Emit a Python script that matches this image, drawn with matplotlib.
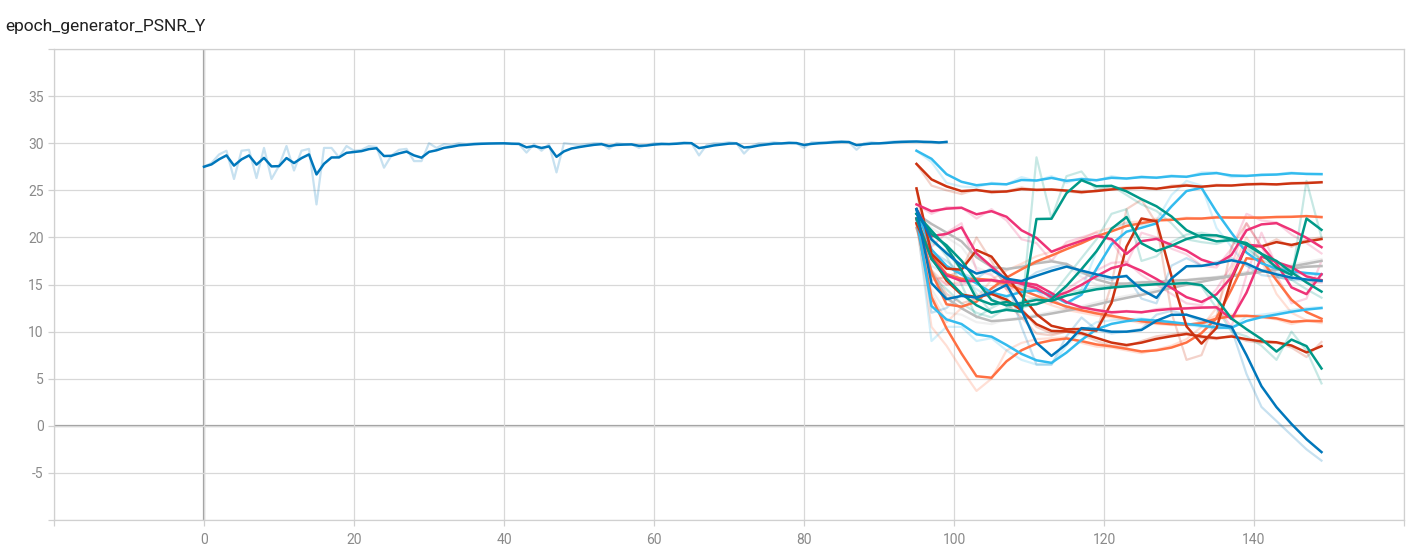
import numpy as np
import matplotlib
matplotlib.use("Agg")
import matplotlib.pyplot as plt

# -----------------------
# Data (raw scalar values)
# -----------------------
TITLE = "epoch_generator_PSNR_Y"
SMOOTHING = 0.6

main_epochs = np.arange(0, 100)
main_raw = [
    27.5, 27.9, 28.8, 29.2, 26.2, 29.2, 29.3, 26.3, 29.5, 26.2,
    27.6, 29.7, 27.1, 29.2, 29.4, 23.5, 29.5, 29.5, 28.5, 29.7,
    29.2, 29.3, 29.7, 29.6, 27.4, 28.7, 29.3, 29.4, 28.1, 28.1,
    30.0, 29.5, 29.9, 29.8, 30.0, 29.9, 30.0, 30.0, 30.0, 30.0,
    30.0, 29.9, 29.9, 29.0, 29.9, 29.2, 29.9, 26.9, 30.0, 29.9,
    29.8, 29.9, 30.0, 30.0, 29.4, 30.0, 29.9, 29.9, 29.5, 29.8,
    30.0, 30.0, 29.9, 30.0, 30.1, 30.0, 28.7, 29.8, 30.0, 30.0,
    30.1, 30.0, 28.9, 29.7, 30.0, 30.0, 30.1, 30.0, 30.1, 30.0,
    29.5, 30.1, 30.1, 30.1, 30.2, 30.2, 30.1, 29.3, 30.0, 30.1,
    30.0, 30.1, 30.2, 30.2, 30.2, 30.2, 30.1, 30.1, 30.0, 30.2,
]

# later runs, logged every other epoch from 95 to 149
tail_epochs = np.arange(95, 150, 2)

cyan_top = [29.2, 28.0, 25.8, 25.4, 25.3, 25.8, 25.6, 26.4, 26.0, 26.5, 25.8, 26.3, 26.0, 26.5,
            26.2, 26.5, 26.3, 26.6, 26.4, 26.9, 26.9, 26.4, 26.5, 26.7, 26.7, 26.9, 26.7, 26.7]
red_top = [27.8, 25.5, 25.0, 24.6, 25.1, 24.7, 24.9, 25.3, 25.0, 25.1, 24.9, 24.7, 25.0, 25.2,
           25.3, 25.3, 25.1, 25.5, 25.6, 25.3, 25.6, 25.5, 25.7, 25.7, 25.6, 25.8, 25.8, 25.9]
orange_22 = [22.0, 14.0, 11.0, 12.5, 13.5, 15.5, 16.5, 17.2, 18.0, 18.5, 19.2, 19.8, 20.6, 21.0,
             21.6, 21.7, 22.0, 21.9, 22.1, 22.0, 22.2, 22.1, 22.1, 22.1, 22.2, 22.2, 22.3, 22.1]
teal_jump = [22.0, 16.0, 14.5, 13.0, 12.0, 11.5, 12.5, 12.0, 28.5, 22.0, 26.5, 27.0, 25.0, 25.5,
             24.5, 23.5, 22.8, 21.5, 19.8, 19.5, 19.3, 19.8, 19.2, 17.5, 15.8, 15.5, 26.0, 20.0]
red_wave = [25.2, 15.5, 15.8, 16.5, 20.0, 17.5, 14.5, 12.5, 10.5, 9.8, 10.0, 10.3, 10.0, 15.0,
            23.0, 24.0, 21.5, 12.0, 7.0, 7.5, 11.5, 19.0, 21.5, 19.0, 19.8, 19.0, 19.8, 20.0]
red_low = [21.5, 16.5, 14.0, 13.0, 13.5, 14.2, 13.0, 11.5, 9.8, 9.6, 10.0, 9.7, 9.0, 8.5,
           8.4, 9.0, 9.5, 9.7, 9.9, 9.3, 9.2, 9.6, 9.0, 8.8, 8.8, 8.3, 7.3, 8.9]
blue_dip = [23.0, 12.0, 12.5, 14.0, 13.5, 14.5, 15.5, 10.5, 6.5, 6.5, 9.5, 11.5, 10.2, 9.8,
            10.0, 10.3, 11.8, 12.2, 11.8, 11.0, 10.5, 10.3, 5.5, 2.0, 0.5, -1.0, -2.5, -3.7]
grey_a = [22.5, 21.0, 20.0, 19.0, 16.8, 16.2, 16.5, 17.0, 17.5, 17.6, 17.0, 15.8, 15.0, 14.8,
          15.1, 15.3, 15.3, 15.5, 15.5, 15.7, 15.8, 16.0, 16.3, 16.5, 16.8, 17.1, 17.4, 17.7]
grey_b = [21.0, 14.5, 12.0, 11.8, 11.0, 10.8, 11.3, 11.5, 11.8, 12.1, 12.4, 12.7, 13.1, 13.5,
          13.8, 14.1, 14.5, 14.9, 15.2, 15.5, 15.8, 16.1, 16.3, 16.5, 16.7, 16.8, 17.0, 17.0]
cyan_hump = [23.0, 17.0, 16.0, 15.5, 14.5, 13.5, 13.5, 14.5, 14.5, 13.5, 12.5, 14.5, 18.5, 21.0,
             21.5, 21.3, 21.8, 24.5, 26.0, 25.5, 21.0, 19.0, 17.0, 16.5, 16.3, 16.2, 16.1, 16.0]
blue_mid = [23.0, 18.5, 17.5, 16.2, 15.6, 16.8, 15.0, 15.2, 16.3, 16.8, 17.2, 16.2, 15.8, 15.5,
            16.0, 13.5, 13.0, 17.0, 17.8, 17.0, 17.4, 17.8, 17.0, 16.0, 15.8, 15.5, 15.4, 15.3]
magenta_up = [23.5, 22.5, 23.2, 23.2, 22.0, 23.0, 21.8, 19.8, 19.4, 17.5, 19.5, 20.0, 20.5, 19.6,
              17.2, 20.5, 20.0, 18.8, 18.2, 17.0, 16.8, 18.8, 22.5, 21.8, 21.6, 20.3, 19.4, 18.3]
magenta_low = [22.0, 16.0, 15.0, 15.0, 15.4, 15.5, 15.1, 15.2, 14.8, 13.5, 12.5, 12.2, 12.1, 11.9,
               12.2, 12.0, 12.4, 12.5, 12.5, 12.6, 12.6, 10.5, 16.0, 20.5, 17.0, 16.5, 15.2, 15.2]
magenta_3 = [23.0, 19.0, 20.5, 21.5, 16.5, 16.0, 14.5, 14.8, 14.3, 13.0, 14.5, 15.5, 16.5, 17.3,
             17.4, 16.0, 15.0, 14.0, 13.0, 12.8, 14.5, 17.0, 21.5, 19.0, 16.0, 13.0, 13.5, 17.5]
orange_low = [21.5, 10.5, 8.5, 6.0, 3.7, 5.0, 8.0, 8.8, 9.2, 9.3, 9.4, 8.8, 8.4, 8.3,
              8.0, 7.7, 8.1, 8.5, 9.2, 10.5, 12.5, 16.5, 20.0, 17.5, 14.0, 12.0, 11.2, 10.9]
orange_mid = [22.0, 16.5, 15.0, 15.3, 15.6, 15.4, 14.8, 14.0, 13.4, 12.8, 12.3, 12.0, 11.7, 11.5,
              11.2, 10.9, 10.8, 10.7, 10.7, 11.0, 11.7, 11.8, 11.7, 11.5, 11.3, 10.8, 11.2, 11.1]
teal_low = [22.5, 19.5, 18.5, 16.5, 14.0, 12.0, 12.4, 13.2, 13.6, 13.2, 14.2, 14.4, 14.7, 14.8,
            14.9, 15.0, 15.1, 15.1, 15.2, 14.8, 12.5, 10.0, 9.5, 8.5, 7.0, 10.0, 8.0, 4.5]
teal_2 = [22.5, 20.0, 18.0, 15.0, 11.5, 12.5, 13.3, 12.5, 13.0, 13.8, 15.8, 17.8, 19.8, 22.5,
          23.0, 17.5, 18.0, 19.5, 20.3, 20.5, 20.2, 19.6, 18.8, 17.6, 17.0, 15.5, 14.5, 13.6]
cyan_low = [22.0, 9.0, 10.5, 10.5, 9.0, 9.3, 8.0, 7.0, 6.5, 6.5, 8.5, 10.0, 11.0, 11.2,
            11.3, 11.4, 11.1, 10.9, 10.7, 10.5, 10.3, 10.4, 11.6, 11.8, 12.0, 12.3, 12.5, 12.6]

# TensorBoard run colours
BLUE, CYAN, TEAL = "#0077bb", "#33bbee", "#009988"
ORANGE, RED, MAGENTA, GREY = "#ff7043", "#cc3311", "#ee3377", "#bbbbbb"

tail_runs = [
    (grey_a, GREY), (grey_b, GREY),
    (orange_low, ORANGE), (orange_mid, ORANGE), (orange_22, ORANGE),
    (cyan_low, CYAN), (cyan_hump, CYAN), (cyan_top, CYAN),
    (red_low, RED), (red_wave, RED), (red_top, RED),
    (magenta_low, MAGENTA), (magenta_3, MAGENTA), (magenta_up, MAGENTA),
    (teal_low, TEAL), (teal_2, TEAL), (teal_jump, TEAL),
    (blue_mid, BLUE), (blue_dip, BLUE),
]


# -----------------------
# TensorBoard style smoothing (debiased EMA)
# -----------------------
def smooth(values, weight):
    out, last = [], 0.0
    for i, v in enumerate(values):
        last = last * weight + (1 - weight) * v
        out.append(last / (1 - weight ** (i + 1)))
    return np.array(out)


# -----------------------
# Plot
# -----------------------
fig = plt.figure(figsize=(14.14, 5.48), dpi=100)
ax = fig.add_axes([54 / 1414, 28 / 548, 1350 / 1414, 471 / 548])

runs = [(main_epochs, main_raw, BLUE, SMOOTHING)]
runs += [(tail_epochs, r, c, 0.4) for r, c in tail_runs]

# raw values underneath, faded
for x, y, c, w in runs:
    ax.plot(x, y, color=c, lw=1.6, alpha=0.22, solid_joinstyle="round", zorder=2)
# smoothed on top
for x, y, c, w in runs:
    ax.plot(x, smooth(y, w), color=c, lw=1.8, solid_joinstyle="round", zorder=3)

ax.set_xlim(-20, 160)
ax.set_ylim(-10, 40)

xt = np.arange(-20, 161, 20)
ax.set_xticks(xt)
ax.set_xticklabels([str(t) if 0 <= t <= 140 else "" for t in xt])
yt = np.arange(-10, 41, 5)
ax.set_yticks(yt)
ax.set_yticklabels([str(t) if -5 <= t <= 35 else "" for t in yt])

ax.grid(True, color="#d8d8d8", lw=0.9, zorder=0)
ax.axhline(0, color="#9e9e9e", lw=1.6, zorder=1)
ax.axvline(0, color="#9e9e9e", lw=1.6, zorder=1)

for s in ax.spines.values():
    s.set_color("#d0d0d0")
    s.set_linewidth(0.9)

ax.tick_params(axis="both", length=4.5, width=0.9, color="#d0d0d0",
               labelcolor="#8a8a8a", labelsize=10)
ax.tick_params(axis="x", pad=4.5)
ax.tick_params(axis="y", pad=3)
for lbl in ax.get_xticklabels() + ax.get_yticklabels():
    lbl.set_family("Roboto")

fig.text(5 / 1414, 1 - 26 / 548, TITLE, fontsize=12.5, family="Roboto",
         color="#212121", va="center", ha="left")

fig.savefig("out.png", dpi=100)
